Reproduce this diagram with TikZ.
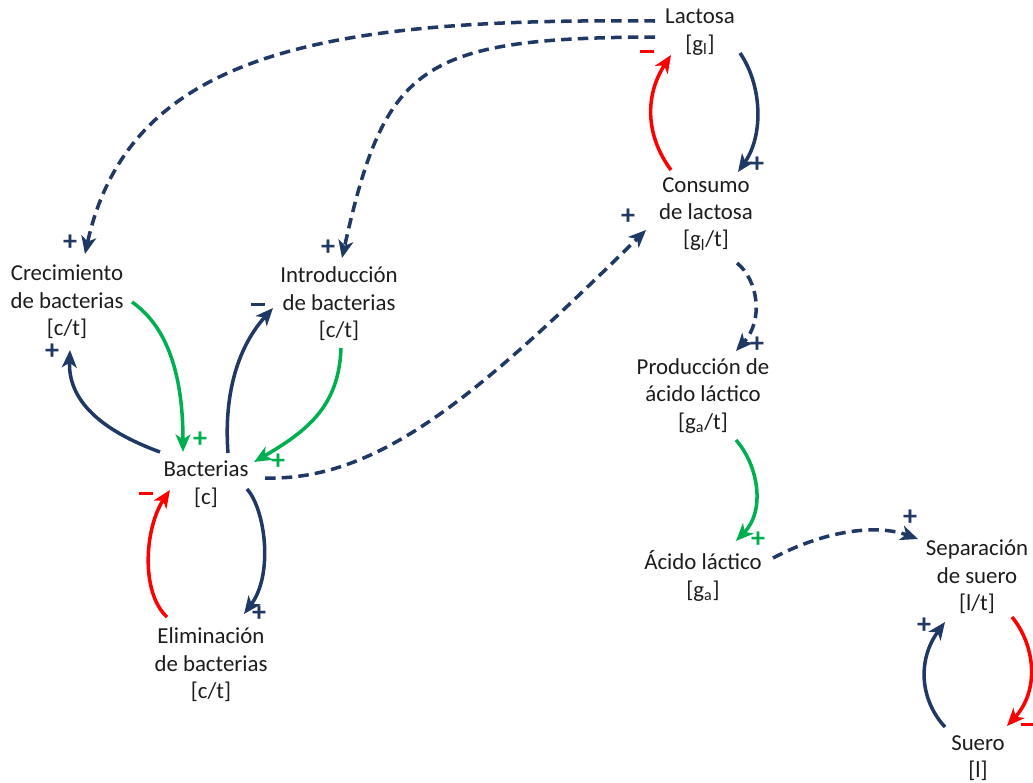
\documentclass[tikz,border=0pt]{standalone}
\usepackage{fontspec}
\setmainfont{Carlito}
\usepackage{xcolor}
\usepackage{tikz}
\usetikzlibrary{
    arrows.meta,
    positioning
}
\definecolor{azul}{RGB}{31,56,100}
\definecolor{verde}{RGB}{0,176,80}
\definecolor{rojo}{RGB}{255,0,0}
\definecolor{texto}{RGB}{28,28,28}
\newcommand{\menos}{\rule[0.25em]{8pt}{1.5pt}}

\begin{document}
\begin{tikzpicture}[
    x=0.02cm, y=-0.02cm,
    font=\fontsize{13}{15.6}\selectfont,
    var/.style={
        align=center,
        inner sep=0pt,
        text=texto
    },
    flecha/.style={
        line width=2pt,
        -{Stealth[length=10pt, width=8.5pt, inset=2.8pt]}
    },
    info/.style={
        flecha,
        dash pattern=on 6pt off 3.5pt
    },
    signo/.style={
        font=\fontsize{16}{18}\selectfont\bfseries,
        inner sep=0pt
    }
]
\useasboundingbox (0,0) rectangle (1033,782);

% Variables
\node[var] (lac) at (700,32) {Lactosa \\ {[g\textsubscript{l}]}};
\node[var] (cons) at (706,214) {Consumo \\ de lactosa \\ {[g\textsubscript{l}/t]}};
\node[var] (crec) at (67,302) {Crecimiento \\ de bacterias \\ {[c/t]}};
\node[var] (intro) at (339,304) {Introducción \\ de bacterias \\ {[c/t]}};
\node[var] (bact) at (206,484) {Bacterias \\ {[c]}};
\node[var] (elim) at (211,665) {Eliminación \\ de bacterias \\ {[c/t]}};
\node[var] (prod) at (703,396) {Producción de \\ ácido láctico \\ {[g\textsubscript{a}/t]}};
\node[var] (acido) at (703,576) {Ácido láctico \\ {[g\textsubscript{a}]}};
\node[var] (sep) at (977,577) {Separación \\ de suero \\ {[l/t]}};
\node[var] (suero) at (978,758) {Suero \\ {[l]}};

% Enlaces de información
\draw[info, azul] ([shift={(-45,-11)}]lac.center) .. controls +(-325,-3) and +(45,-204) .. ([shift={(18,-48)}]crec.center);
\draw[info, azul] ([shift={(-45,5)}]lac.center) .. controls +(-235,1) and +(43,-193) .. ([shift={(3,-46)}]intro.center);
\draw[info, azul] ([shift={(59,-6)}]bact.center) .. controls +(115,3) and +(-166,163) .. ([shift={(-60,16)}]cons.center);
\draw[info, azul] ([shift={(31,49)}]cons.center) .. controls +(21,17) and +(28,-31) .. ([shift={(33,-45)}]prod.center);
\draw[info, azul] ([shift={(70,-18)}]acido.center) .. controls +(57,-30) and +(-38,-14) .. ([shift={(-59,-38)}]sep.center);

% Ciclo de la lactosa
\draw[flecha, azul] ([shift={(40,21)}]lac.center) .. controls +(22,32) and +(26,-37) .. ([shift={(32,-42)}]cons.center);
\draw[flecha, rojo] ([shift={(-35,-44)}]cons.center) .. controls +(-26,-35) and +(-26,40) .. ([shift={(-29,23)}]lac.center);

% Bacterias
\draw[flecha, azul] ([shift={(-46,-32)}]bact.center) .. controls +(-60,-22) and +(-2,50) .. ([shift={(3,48)}]crec.center);
\draw[flecha, verde] ([shift={(65,0)}]crec.center) .. controls +(33,23) and +(0,-82) .. ([shift={(-23,-32)}]bact.center);
\draw[flecha, azul] ([shift={(22,-31)}]bact.center) .. controls +(-4,-53) and +(-38,42) .. ([shift={(-66,4)}]intro.center);
\draw[flecha, verde] ([shift={(2,44)}]intro.center) .. controls +(-2,57) and +(55,-32) .. ([shift={(48,-22)}]bact.center);
\draw[flecha, azul] ([shift={(41,5)}]bact.center) .. controls +(18,20) and +(30,-40) .. ([shift={(33,-51)}]elim.center);
\draw[flecha, rojo] ([shift={(-44,-48)}]elim.center) .. controls +(-27,-25) and +(-25,37) .. ([shift={(-36,6)}]bact.center);

% Ácido y suero
\draw[flecha, verde] ([shift={(33,44)}]prod.center) .. controls +(22,25) and +(30,-31) .. ([shift={(33,-35)}]acido.center);
\draw[flecha, rojo] ([shift={(35,40)}]sep.center) .. controls +(23,28) and +(33,-36) .. ([shift={(29,-32)}]suero.center);
\draw[flecha, azul] ([shift={(-33,-31)}]suero.center) .. controls +(-25,-27) and +(-28,38) .. ([shift={(-32,45)}]sep.center);

% Polaridades
\node[signo, azul] (s-crec) at (70,243) {+};
\node[signo, azul] (s-intro) at (328,248) {+};
\node[signo, rojo] (s-lac) at (647,55) {\menos};
\node[signo, azul] (s-cons) at (757,165) {+};
\node[signo, azul] (s-cons2) at (628,217) {+};
\node[signo, azul] (s-prod) at (757,345) {+};
\node[signo, azul] (s-crec2) at (52,352) {+};
\node[signo, verde] (s-bact) at (200,440) {+};
\node[signo, azul] (s-intro2) at (258,308) {\menos};
\node[signo, verde] (s-bact2) at (278,462) {+};
\node[signo, rojo] (s-bact3) at (146,497) {\menos};
\node[signo, azul] (s-elim) at (259,614) {+};
\node[signo, verde] (s-acido) at (758,540) {+};
\node[signo, azul] (s-sep) at (910,518) {+};
\node[signo, azul] (s-sep2) at (924,626) {+};
\node[signo, rojo] (s-suero) at (1028,728) {\menos};

\end{tikzpicture}
\end{document}
